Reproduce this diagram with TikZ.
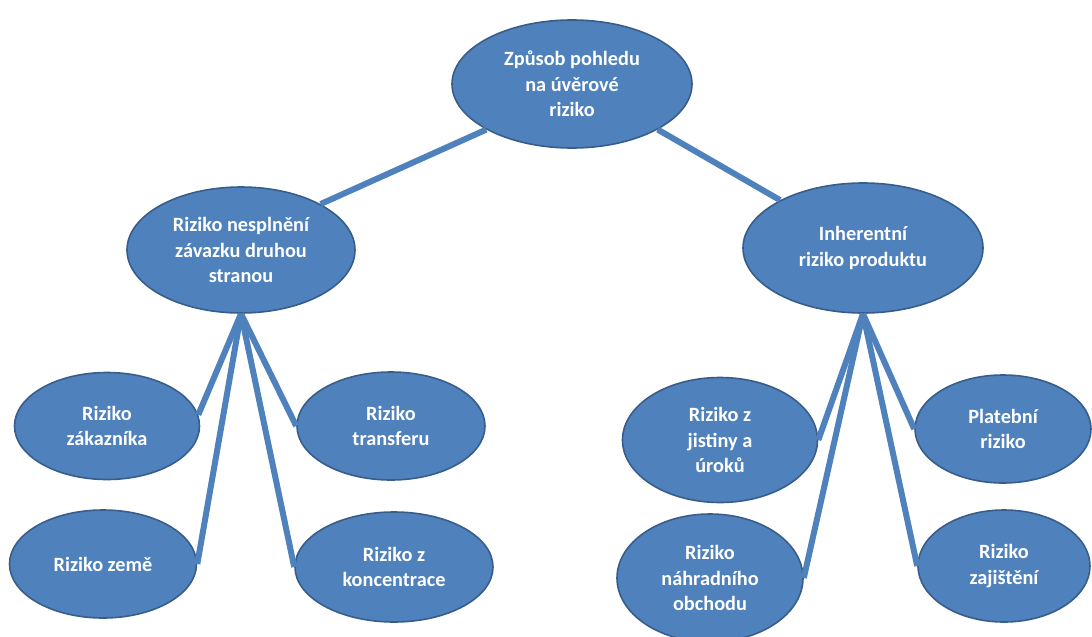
\documentclass[tikz,border=0pt]{standalone}
\usepackage{fontspec}
\setmainfont{Carlito}
\usetikzlibrary{shapes.geometric}
\definecolor{riskfill}{HTML}{4F81BD}
\definecolor{riskline}{HTML}{385D8A}
\begin{document}
\begin{tikzpicture}
    [x=1pt,y=-1pt,
     risk/.style={ellipse,draw=riskline,line width=1.6pt,fill=riskfill,inner sep=0pt,
                  text=white,align=center,font=\bfseries\fontsize{20.3}{25.5}\selectfont},
     link/.style={draw=riskfill,line width=6pt}]
    \useasboundingbox (0,0) rectangle (1092,637);
    \node[risk,minimum width=240pt,minimum height=128pt] (top) at (572,84) {Způsob pohledu\\na úvěrové\\riziko};
    \node[risk,minimum width=228pt,minimum height=126pt] (cpty) at (241,250) {Riziko nesplnění\\závazku druhou\\stranou};
    \node[risk,minimum width=240pt,minimum height=130pt] (prod) at (863,248) {Inherentní\\riziko produktu};
    
    \node[risk,minimum width=185pt,minimum height=107pt] (zak) at (107,426) {Riziko\\zákazníka};
    \node[risk,minimum width=187pt,minimum height=108pt] (zeme) at (103,564) {Riziko země};
    \node[risk,minimum width=188pt,minimum height=108pt] (trans) at (391,426) {Riziko\\transferu};
    \node[risk,minimum width=198pt,minimum height=110pt] (konc) at (394,567) {Riziko z\\koncentrace};
    
    \node[risk,minimum width=195pt,minimum height=125pt] (jist) at (720,440) {Riziko z\\jistiny a\\úroků};
    \node[risk,minimum width=186pt,minimum height=128pt] (nahr) at (710,578) {Riziko\\náhradního\\obchodu};
    \node[risk,minimum width=176pt,minimum height=108pt] (plat) at (1003,429) {Platební\\riziko};
    \node[risk,minimum width=172pt,minimum height=112pt] (zaj) at (1004,566) {Riziko\\zajištění};
    
    \draw[link] (top.208) -- (cpty.30);
    \draw[link] (top.-28) -- (prod.150);
    
    \draw[link] (cpty.south) -- (zak.7);
    \draw[link] (cpty.south) -- (zeme.east);
    \draw[link] (cpty.south) -- (trans.west);
    \draw[link] (cpty.south) -- (konc.west);
    
    \draw[link] (prod.south) -- (jist.east);
    \draw[link] (prod.south) -- (nahr.east);
    \draw[link] (prod.south) -- (plat.west);
    \draw[link] (prod.south) -- (zaj.west);
  \end{tikzpicture}
\end{document}
